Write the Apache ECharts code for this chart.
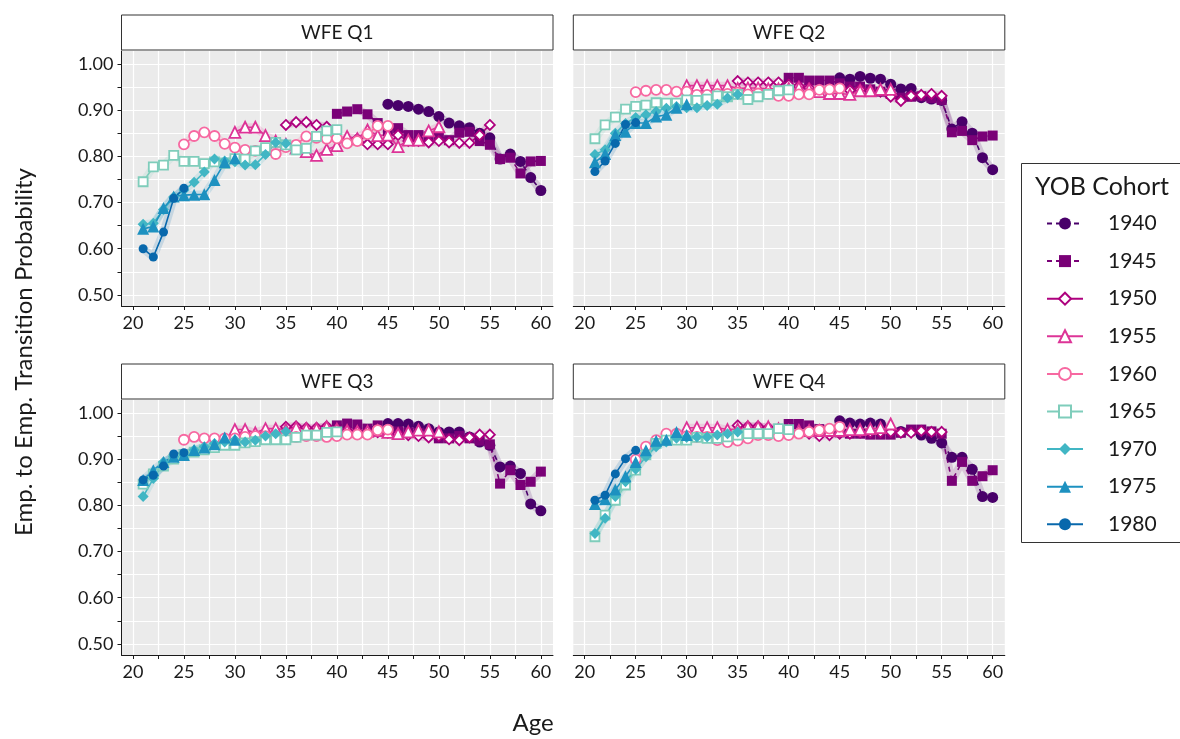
<!DOCTYPE html>
<html>
<head>
<meta charset="utf-8">
<script src="https://cdn.jsdelivr.net/npm/echarts@6/dist/echarts.min.js"></script>
<style>
  html, body { margin: 0; padding: 0; background: #fff; }
  #chart { width: 1180px; height: 739px; }
</style>
</head>
<body>
<div id="chart"></div>
<script>
// cohorts and the first observed age of each one
var cohorts = ['1940', '1945', '1950', '1955', '1960', '1965', '1970', '1975', '1980'];
var firstAge = [45, 40, 35, 30, 25, 21, 21, 21, 21];
var panelTitles = ['WFE Q1', 'WFE Q2', 'WFE Q3', 'WFE Q4'];

var xTickValues = [20, 22.5, 25, 27.5, 30, 32.5, 35, 37.5, 40, 42.5, 45, 47.5, 50, 52.5, 55, 57.5, 60];
var xLabelValues = [20, 25, 30, 35, 40, 45, 50, 55, 60];
var yTickValues = [0.5, 0.55, 0.6, 0.65, 0.7, 0.75, 0.8, 0.85, 0.9, 0.95, 1.0];
var yLabelValues = [0.5, 0.6, 0.7, 0.8, 0.9, 1.0];

// one list per cohort (1940 ... 1980), values from firstAge onwards
var wfeQ1 = [
  [0.913, 0.910, 0.908, 0.902, 0.897, 0.886, 0.872, 0.866, 0.862, 0.850, 0.840, 0.794, 0.805, 0.789, 0.754, 0.726],
  [0.892, 0.897, 0.902, 0.891, 0.872, 0.855, 0.861, 0.846, 0.846, 0.843, 0.846, 0.835, 0.851, 0.853, 0.833, 0.825, 0.794, 0.797, 0.763, 0.789, 0.790],
  [0.868, 0.874, 0.874, 0.868, 0.864, 0.838, 0.832, 0.838, 0.826, 0.826, 0.826, 0.846, 0.833, 0.833, 0.830, 0.833, 0.830, 0.829, 0.829, 0.846, 0.868],
  [0.852, 0.863, 0.863, 0.845, 0.833, 0.826, 0.818, 0.810, 0.802, 0.815, 0.823, 0.843, 0.838, 0.857, 0.845, 0.846, 0.821, 0.835, 0.835, 0.855, 0.864],
  [0.826, 0.844, 0.852, 0.844, 0.827, 0.819, 0.814, 0.812, 0.815, 0.805, 0.820, 0.825, 0.843, 0.840, 0.838, 0.839, 0.828, 0.833, 0.848, 0.866, 0.866],
  [0.745, 0.777, 0.781, 0.802, 0.789, 0.789, 0.784, 0.788, 0.785, 0.795, 0.794, 0.812, 0.819, 0.830, 0.825, 0.814, 0.817, 0.843, 0.855, 0.858],
  [0.653, 0.655, 0.685, 0.712, 0.727, 0.744, 0.766, 0.794, 0.790, 0.788, 0.781, 0.782, 0.804, 0.830, 0.828],
  [0.643, 0.648, 0.688, 0.713, 0.716, 0.717, 0.718, 0.749, 0.787, 0.796],
  [0.600, 0.582, 0.636, 0.709, 0.731]
];
var wfeQ2 = [
  [0.970, 0.967, 0.973, 0.969, 0.967, 0.956, 0.946, 0.947, 0.927, 0.924, 0.921, 0.859, 0.875, 0.850, 0.797, 0.771],
  [0.970, 0.970, 0.964, 0.964, 0.964, 0.958, 0.951, 0.951, 0.945, 0.940, 0.935, 0.927, 0.929, 0.930, 0.926, 0.922, 0.852, 0.855, 0.835, 0.843, 0.845],
  [0.963, 0.960, 0.960, 0.960, 0.960, 0.955, 0.952, 0.948, 0.945, 0.945, 0.945, 0.943, 0.945, 0.942, 0.940, 0.929, 0.920, 0.931, 0.933, 0.935, 0.931],
  [0.953, 0.953, 0.953, 0.953, 0.953, 0.947, 0.948, 0.948, 0.946, 0.946, 0.947, 0.949, 0.945, 0.940, 0.936, 0.936, 0.934, 0.942, 0.942, 0.945, 0.945],
  [0.939, 0.942, 0.944, 0.944, 0.940, 0.940, 0.933, 0.933, 0.935, 0.935, 0.938, 0.934, 0.936, 0.935, 0.931, 0.931, 0.934, 0.934, 0.944, 0.945, 0.947],
  [0.838, 0.868, 0.885, 0.902, 0.908, 0.911, 0.916, 0.915, 0.915, 0.922, 0.921, 0.924, 0.931, 0.929, 0.934, 0.923, 0.929, 0.934, 0.942, 0.944],
  [0.804, 0.814, 0.850, 0.871, 0.884, 0.890, 0.897, 0.904, 0.908, 0.905, 0.905, 0.910, 0.913, 0.926, 0.934],
  [0.787, 0.805, 0.846, 0.853, 0.872, 0.872, 0.886, 0.890, 0.905, 0.913],
  [0.767, 0.790, 0.828, 0.869, 0.873]
];
var wfeQ3 = [
  [0.977, 0.977, 0.976, 0.971, 0.966, 0.959, 0.959, 0.959, 0.948, 0.937, 0.930, 0.883, 0.885, 0.869, 0.803, 0.788],
  [0.973, 0.977, 0.975, 0.966, 0.973, 0.962, 0.960, 0.958, 0.957, 0.955, 0.945, 0.945, 0.950, 0.945, 0.940, 0.932, 0.847, 0.876, 0.844, 0.851, 0.873],
  [0.970, 0.971, 0.968, 0.968, 0.971, 0.965, 0.962, 0.960, 0.960, 0.958, 0.957, 0.955, 0.952, 0.950, 0.947, 0.950, 0.943, 0.941, 0.947, 0.953, 0.953],
  [0.964, 0.964, 0.957, 0.966, 0.966, 0.964, 0.968, 0.966, 0.966, 0.970, 0.965, 0.962, 0.960, 0.960, 0.962, 0.958, 0.955, 0.959, 0.963, 0.963, 0.959],
  [0.942, 0.948, 0.945, 0.945, 0.945, 0.945, 0.948, 0.950, 0.950, 0.950, 0.950, 0.948, 0.950, 0.950, 0.948, 0.950, 0.953, 0.953, 0.953, 0.963, 0.964],
  [0.846, 0.868, 0.885, 0.900, 0.910, 0.915, 0.920, 0.925, 0.930, 0.930, 0.935, 0.938, 0.942, 0.942, 0.942, 0.947, 0.952, 0.952, 0.958, 0.959],
  [0.819, 0.858, 0.894, 0.905, 0.909, 0.920, 0.927, 0.934, 0.937, 0.942, 0.937, 0.941, 0.950, 0.955, 0.960],
  [0.855, 0.876, 0.894, 0.905, 0.909, 0.920, 0.925, 0.932, 0.947, 0.942],
  [0.855, 0.865, 0.885, 0.911, 0.914]
];
var wfeQ4 = [
  [0.983, 0.978, 0.976, 0.978, 0.976, 0.962, 0.960, 0.960, 0.952, 0.945, 0.935, 0.904, 0.904, 0.878, 0.819, 0.817],
  [0.976, 0.976, 0.973, 0.965, 0.962, 0.958, 0.955, 0.955, 0.953, 0.953, 0.953, 0.957, 0.964, 0.964, 0.960, 0.955, 0.853, 0.894, 0.853, 0.863, 0.876],
  [0.973, 0.971, 0.971, 0.968, 0.965, 0.962, 0.958, 0.955, 0.950, 0.952, 0.955, 0.955, 0.957, 0.958, 0.958, 0.959, 0.957, 0.957, 0.961, 0.959, 0.959],
  [0.968, 0.968, 0.968, 0.968, 0.964, 0.965, 0.970, 0.970, 0.970, 0.966, 0.962, 0.962, 0.962, 0.962, 0.962, 0.962, 0.964, 0.964, 0.966, 0.968, 0.976],
  [0.899, 0.927, 0.941, 0.955, 0.955, 0.950, 0.948, 0.948, 0.941, 0.937, 0.940, 0.945, 0.952, 0.952, 0.950, 0.952, 0.955, 0.959, 0.963, 0.966, 0.970],
  [0.732, 0.779, 0.811, 0.844, 0.876, 0.909, 0.934, 0.941, 0.941, 0.941, 0.947, 0.945, 0.945, 0.948, 0.952, 0.955, 0.955, 0.955, 0.966, 0.964],
  [0.739, 0.772, 0.819, 0.851, 0.878, 0.905, 0.927, 0.937, 0.945, 0.947, 0.948, 0.948, 0.952, 0.955, 0.959],
  [0.803, 0.813, 0.834, 0.863, 0.894, 0.919, 0.940, 0.942, 0.959, 0.952],
  [0.811, 0.822, 0.868, 0.901, 0.919]
];
var panels = [wfeQ1, wfeQ2, wfeQ3, wfeQ4];

// styling per cohort
var colors = ['#49006a', '#7a0177', '#ae017e', '#dd3497', '#f768a1', '#7fcdbb', '#41b6c4', '#1d91c0', '#0868ac'];
var symbols = ['circle', 'rect', 'diamond', 'triangle', 'circle', 'rect', 'diamond', 'triangle', 'circle'];
var hollow = [false, false, true, true, true, true, false, false, false];
var dashed = [true, true, false, false, false, false, false, false, false];
var symSizes = [11, 10, 10, 11, 10, 9, 11, 12, 9];

var FONT = 'Lato, "Open Sans", sans-serif';
var gridPos = [
  {left: 121.5, top: 51, width: 431.5, height: 255},
  {left: 573.3, top: 51, width: 431.5, height: 255},
  {left: 121.5, top: 400, width: 431.5, height: 255},
  {left: 573.3, top: 400, width: 431.5, height: 255}
];

var chart = echarts.init(document.getElementById('chart'));

var grids = [], xAxes = [], yAxes = [], series = [], graphics = [];

gridPos.forEach(function (g, p) {
  grids.push({
    left: g.left, top: g.top, width: g.width, height: g.height,
    show: true, backgroundColor: '#ebebeb', borderWidth: 0
  });
  xAxes.push({
    type: 'value', gridIndex: p, min: 18.88, max: 61.19,
    axisLine: {show: true, onZero: false, lineStyle: {color: '#1a1a1a', width: 1}},
    axisTick: {show: true, length: 4, customValues: xTickValues, lineStyle: {color: '#1a1a1a'}},
    axisLabel: {customValues: xLabelValues, fontFamily: FONT, fontSize: 18, color: '#1a1a1a', margin: 8},
    splitLine: {show: true, lineStyle: {color: '#ffffff', width: 1.2}}
  });
  var left = (p % 2 === 0);
  yAxes.push({
    type: 'value', gridIndex: p, min: 0.476, max: 1.028,
    axisLine: {show: left, onZero: false, lineStyle: {color: '#1a1a1a', width: 1}},
    axisTick: {show: left, length: 4, customValues: yTickValues, lineStyle: {color: '#1a1a1a'}},
    axisLabel: {show: left, customValues: yLabelValues, fontFamily: FONT, fontSize: 18, color: '#1a1a1a', margin: 8,
      formatter: function (v) { return v.toFixed(2); }},
    splitLine: {show: true, lineStyle: {color: '#ffffff', width: 1.2}}
  });

  // facet strip
  graphics.push({
    type: 'rect', silent: true,
    shape: {x: g.left, y: g.top - 36, width: g.width, height: 35},
    style: {fill: '#ffffff', stroke: '#333333', lineWidth: 1}
  });
  graphics.push({
    type: 'text', silent: true,
    x: g.left + g.width / 2, y: g.top - 18.5,
    style: {text: panelTitles[p], fill: '#1a1a1a', font: '19px ' + FONT, textAlign: 'center', textVerticalAlign: 'middle'}
  });

  panels[p].forEach(function (vals, c) {
    var pts = vals.map(function (v, i) { return [firstAge[c] + i, v]; });
    // faint ribbon behind each line
    series.push({
      name: cohorts[c] + ' band', type: 'line', xAxisIndex: p, yAxisIndex: p,
      data: pts, symbol: 'none', silent: true, z: 1,
      lineStyle: {color: colors[c], width: 8, opacity: 0.16},
      emphasis: {disabled: true}
    });
  });
  panels[p].forEach(function (vals, c) {
    var pts = vals.map(function (v, i) { return [firstAge[c] + i, v]; });
    series.push({
      name: cohorts[c], type: 'line', xAxisIndex: p, yAxisIndex: p,
      data: pts, symbol: symbols[c], symbolSize: symSizes[c], z: 3,
      lineStyle: {color: colors[c], width: 1.6, type: dashed[c] ? [5, 4] : 'solid'},
      itemStyle: hollow[c]
        ? {color: '#ffffff', borderColor: colors[c], borderWidth: 1.8}
        : {color: colors[c], borderWidth: 0},
      emphasis: {disabled: true}
    });
  });
});

// axis titles
graphics.push({
  type: 'text', silent: true, x: 533, y: 723,
  style: {text: 'Age', fill: '#1a1a1a', font: '24px ' + FONT, textAlign: 'center', textVerticalAlign: 'middle'}
});
graphics.push({
  type: 'text', silent: true, x: 24, y: 352, rotation: Math.PI / 2,
  style: {text: 'Emp. to Emp. Transition Probability', fill: '#1a1a1a', font: '24px ' + FONT, textAlign: 'center', textVerticalAlign: 'middle'}
});
// legend frame and title
graphics.push({
  type: 'rect', silent: true,
  shape: {x: 1021.5, y: 163.5, width: 170, height: 379},
  style: {fill: '#ffffff', stroke: '#333333', lineWidth: 1}, z: -1
});
graphics.push({
  type: 'text', silent: true, x: 1035, y: 187,
  style: {text: 'YOB Cohort', fill: '#1a1a1a', font: '25px ' + FONT, textAlign: 'left', textVerticalAlign: 'middle'}
});

var option = {
  animation: false,
  backgroundColor: '#ffffff',
  grid: grids,
  xAxis: xAxes,
  yAxis: yAxes,
  legend: {
    data: cohorts, orient: 'vertical', left: 1041, top: 208,
    itemWidth: 36, itemHeight: 15, itemGap: 16.6,
    textStyle: {fontFamily: FONT, fontSize: 21, color: '#1a1a1a', padding: [0, 0, 0, 20]},
    selectedMode: false
  },
  graphic: graphics,
  series: series
};

chart.setOption(option);
window.onresize = chart.resize;
</script>
</body>
</html>
